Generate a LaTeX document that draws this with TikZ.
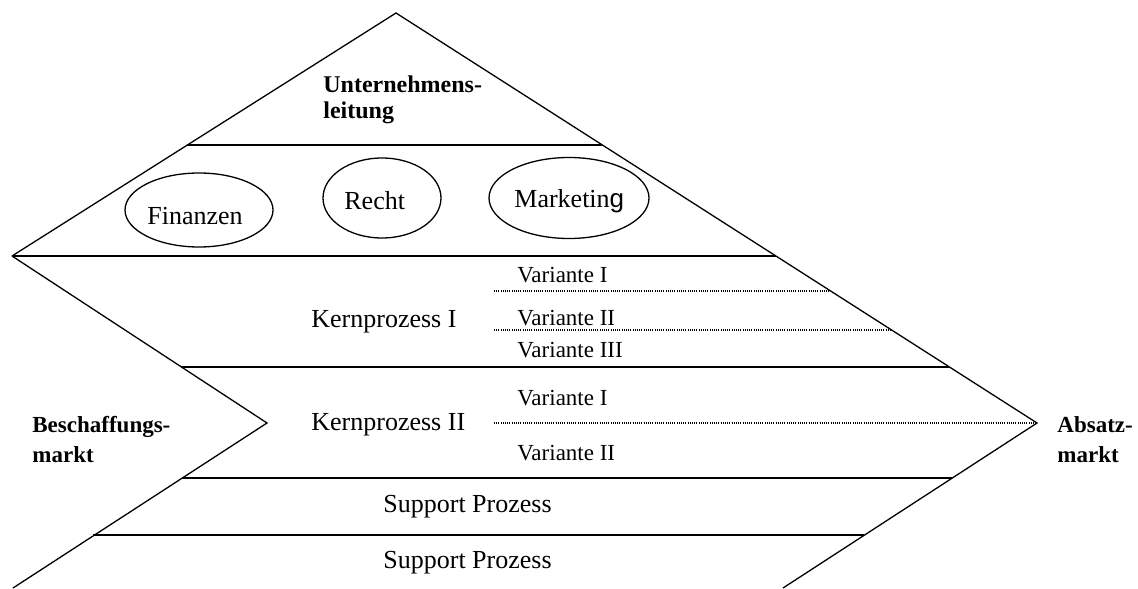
\documentclass[tikz,border=0pt]{standalone}
\usepackage{fontspec}
\setmainfont{Liberation Serif}
\newfontfamily\arialfont{Liberation Sans}
\usetikzlibrary{shapes.geometric}
\tikzset{
	rim/.style={line width=0.65pt},
	band/.style={line width=1pt},
	dots/.style={line width=0.6pt, dash pattern=on 0.5pt off 0.6pt},
	oval/.style={draw, ellipse, line width=0.65pt, inner sep=0pt},
	txt/.style={anchor=base west, inner sep=0pt, font=\fontsize{13}{15}\selectfont},
	vartxt/.style={anchor=base west, inner sep=0pt, font=\fontsize{11.5}{14}\selectfont},
	bold/.style={anchor=base west, inner sep=0pt, align=left, font=\bfseries\fontsize{11.5}{15}\selectfont},
}
\begin{document}
\begin{tikzpicture}[x=0.5pt, y=-0.5pt]
	\useasboundingbox (0,0) rectangle (1138,588);
	% outline
	\draw[rim] (12,256) -- (396,13) -- (1037,423) -- (783,588);
	\draw[rim] (12,256) -- (267,423) -- (13,588);
	% bands
	\draw[band] (187,145) -- (602,145);
	\draw[band] (12,256) -- (776,256);
	\draw[band] (181,367) -- (949,367);
	\draw[band] (182,478) -- (952,478);
	\draw[band] (93,535) -- (864,535);
	% variants
	\draw[dots] (494,291) -- (830,291);
	\draw[dots] (494,330) -- (891,330);
	\draw[dots] (494,423) -- (1037,423);
	% top
	\node[bold, font=\bfseries\fontsize{12}{13.3}\selectfont] (lead) at (323,119) {Unternehmens-\\leitung};
	\node[oval, minimum width=74pt, minimum height=37pt] (fin) at (199,210) {};
	\node[oval, minimum width=59pt, minimum height=40pt] (recht) at (382,198) {};
	\node[oval, minimum width=80pt, minimum height=40.5pt] (mkt) at (569,198) {};
	\node[txt] (fintxt) at (147,224) {Finanzen};
	\node[txt] (rechttxt) at (344,209) {Recht};
	\node[txt] (mkttxt) at (514,207) {Marketin{\arialfont g}};
	% core processes
	\node[txt] (kern1) at (311,327) {Kernprozess I};
	\node[vartxt] (var11) at (517,282) {Variante I};
	\node[vartxt] (var12) at (517,325) {Variante II};
	\node[vartxt] (var13) at (517,357) {Variante III};
	\node[txt] (kern2) at (311,430) {Kernprozess II};
	\node[vartxt] (var21) at (517,405) {Variante I};
	\node[vartxt] (var22) at (517,460) {Variante II};
	% support
	\node[txt] (supp1) at (383,512) {Support Prozess};
	\node[txt] (supp2) at (383,568) {Support Prozess};
	% markets
	\node[bold] (besch) at (32,462) {Beschaffungs-\\markt};
	\node[bold] (absatz) at (1057,462) {Absatz-\\markt};
\end{tikzpicture}
\end{document}
